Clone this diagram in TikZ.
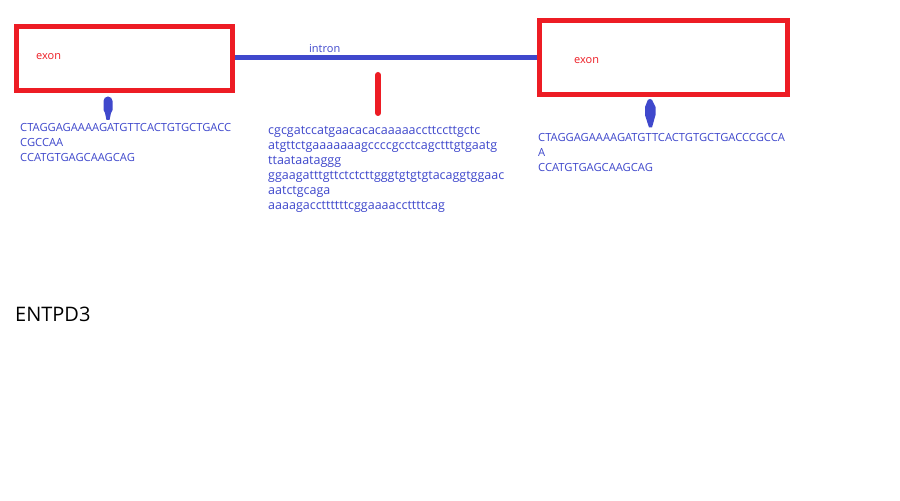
\documentclass[tikz,border=0pt]{standalone}
\usepackage{fontspec}
\setmainfont{Open Sans}
\definecolor{pred}{HTML}{ED1C24}
\definecolor{pblue}{HTML}{3F48CC}
\begin{document}
\begin{tikzpicture}[x=1bp,y=-1bp,
  exonbox/.style={draw=pred,line width=5bp,inner sep=0pt,rectangle},
  seq/.style={anchor=base west,inner sep=0pt,text=pblue,font=\fontsize{11.2bp}{15bp}\selectfont},
  seqlow/.style={anchor=base west,inner sep=0pt,text=pblue,font=\fontsize{12.5bp}{15bp}\selectfont},
  exonlbl/.style={anchor=base west,inner sep=0pt,text=pred,font=\fontsize{11bp}{13bp}\selectfont},
  intronlbl/.style={anchor=base west,inner sep=0pt,text=pblue,font=\fontsize{11bp}{13bp}\selectfont},
  genelbl/.style={anchor=base west,inner sep=0pt,text=black,font=\fontsize{20bp}{24bp}\selectfont},
  backbone/.style={draw=pblue,line width=5bp},
  marker/.style={draw=pred,line width=6bp,line cap=round},
  pointer/.style={fill=pblue,draw=none}]
\useasboundingbox[fill=white] (0,0) rectangle (900,501);

% exon boxes
\node[exonbox,minimum width=216bp,minimum height=64bp] (exonL) at (124.5,58.5) {};
\node[exonbox,minimum width=248bp,minimum height=74bp] (exonR) at (663.5,57.5) {};

% intron line
\draw[backbone] (exonL.east |- exonR.west) -- (exonR.west);

% labels
\node[exonlbl] (exonLtxt) at (36,59.3) {exon};
\node[exonlbl] (exonRtxt) at (574,63.3) {exon};
\node[intronlbl] (introntxt) at (309,52.3) {intron};
\node[genelbl] (gene) at (15,321.7) {ENTPD3};

% red marker
\coordinate (mtop) at (378,75);
\coordinate (mbot) at (378,113);
\draw[marker] (mtop) -- (mbot);

% blue pointers
\fill[pointer] (103.5,101) arc[start angle=180,end angle=360,radius=4.5] -- (112.5,110) -- (111,113) -- (109.5,120) -- (106.5,120) -- (105,113) -- (103.5,110) -- cycle;
\fill[pointer] (647,102) arc[start angle=180,end angle=360,radius=3] -- (655.5,107) -- (655.5,115) -- (652,127.5) -- (649,127.5) -- (645,115) -- (645,107) -- cycle;

% left exon sequence
\node[seq] (sL1) at (20,131.5) {CTAGGAGAAAAGATGTTCACTGTGCTGACC};
\node[seq] (sL2) at (20,146.3) {CGCCAA};
\node[seq] (sL3) at (20,161.2) {CCATGTGAGCAAGCAG};

% intron sequence
\node[seqlow] (sI1) at (268,135) {cgcgatccatgaacacacaaaaaccttccttgctc};
\node[seqlow] (sI2) at (268,150) {atgttctgaaaaaaagccccgcctcagctttgtgaatg};
\node[seqlow] (sI3) at (268,165) {ttaataataggg};
\node[seqlow] (sI4) at (268,180) {ggaagatttgttctctcttgggtgtgtgtacaggtggaac};
\node[seqlow] (sI5) at (268,195) {aatctgcaga};
\node[seqlow] (sI6) at (268,210) {aaaagaccttttttcggaaaaccttttcag};

% right exon sequence
\node[seq] (sR1) at (538,141.7) {CTAGGAGAAAAGATGTTCACTGTGCTGACCCGCCA};
\node[seq] (sR2) at (538,156.5) {A};
\node[seq] (sR3) at (538,171.3) {CCATGTGAGCAAGCAG};
\end{tikzpicture}
\end{document}
